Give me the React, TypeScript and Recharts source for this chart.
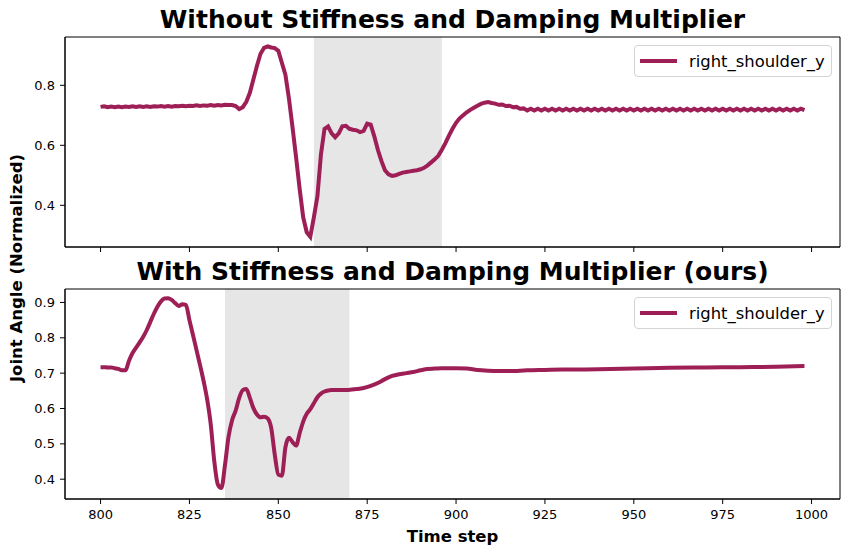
import { LineChart, Line, XAxis, YAxis, ReferenceArea, Legend } from 'recharts'

const LINE_COLOR = '#9d1f56'
const SHADE_COLOR = '#e6e6e6'
const FONT = '"DejaVu Sans", sans-serif'

const xTicks = [800, 825, 850, 875, 900, 925, 950, 975, 1000]
const xDomain = [790, 1008]

const topYTicks = [0.4, 0.6, 0.8]
const topYDomain = [0.261, 0.961]
const topShade = [860, 896]

const bottomYTicks = [0.4, 0.5, 0.6, 0.7, 0.8, 0.9]
const bottomYDomain = [0.344, 0.938]
const bottomShade = [835, 870]

const seriesName = 'right_shoulder_y'
const topTitle = 'Without Stiffness and Damping Multiplier'
const bottomTitle = 'With Stiffness and Damping Multiplier (ours)'

// top run: one value per time step, starting at 800
const topStart = 800
const topValues = [
  0.728, 0.730, 0.727, 0.729, 0.727, 0.729, 0.727, 0.729, 0.728, 0.730, // 800
  0.728, 0.730, 0.728, 0.730, 0.728, 0.730, 0.729, 0.731, 0.729, 0.731, // 810
  0.729, 0.731, 0.730, 0.732, 0.730, 0.732, 0.731, 0.733, 0.731, 0.733, // 820
  0.732, 0.734, 0.732, 0.734, 0.733, 0.735, 0.734, 0.734, 0.731, 0.721, // 830
  0.727, 0.745, 0.775, 0.820, 0.865, 0.905, 0.925, 0.930, 0.926, 0.924, // 840
  0.915, 0.875, 0.835, 0.755, 0.660, 0.560, 0.455, 0.360, 0.310, 0.295, // 850
  0.360, 0.430, 0.570, 0.655, 0.663, 0.640, 0.627, 0.640, 0.663, 0.665, // 860
  0.655, 0.652, 0.650, 0.644, 0.648, 0.672, 0.669, 0.630, 0.585, 0.548, // 870
  0.517, 0.503, 0.498, 0.500, 0.505, 0.509, 0.511, 0.513, 0.515, 0.517, // 880
  0.520, 0.525, 0.533, 0.543, 0.553, 0.565, 0.585, 0.607, 0.632, 0.655, // 890
  0.675, 0.690, 0.700, 0.710, 0.718, 0.725, 0.732, 0.738, 0.742, 0.744, // 900
  0.741, 0.739, 0.735, 0.736, 0.731, 0.732, 0.727, 0.728, 0.722, 0.723, // 910
  0.716, 0.722, 0.716, 0.722, 0.716, 0.722, 0.716, 0.722, 0.716, 0.722, // 920
  0.716, 0.722, 0.716, 0.722, 0.716, 0.722, 0.716, 0.722, 0.716, 0.722, // 930
  0.716, 0.722, 0.716, 0.722, 0.716, 0.722, 0.716, 0.722, 0.716, 0.722, // 940
  0.716, 0.722, 0.716, 0.722, 0.716, 0.722, 0.716, 0.722, 0.716, 0.722, // 950
  0.716, 0.722, 0.716, 0.722, 0.716, 0.722, 0.716, 0.722, 0.716, 0.722, // 960
  0.716, 0.722, 0.716, 0.722, 0.716, 0.722, 0.716, 0.722, 0.716, 0.722, // 970
  0.716, 0.722, 0.716, 0.722, 0.716, 0.722, 0.716, 0.722, 0.716, 0.722, // 980
  0.716, 0.722, 0.716, 0.722, 0.716, 0.722, 0.716, 0.722, 0.717,        // 990
]

const bottomSteps = [
  800, 801, 802, 803, 804, 805, 806, 807, 808, 809,
  810, 811, 812, 813, 814, 815, 816, 817, 818, 819,
  820, 821, 822, 823, 824, 825, 826, 827, 828, 829,
  830, 831, 832, 833, 834, 835, 836, 837, 838, 839,
  840, 841, 842, 843, 844, 845, 846, 847, 848, 849,
  850, 851, 852, 853, 854, 855, 856, 857, 858, 859,
  860, 861, 862, 863, 864, 865, 866, 867, 868, 869,
  870, 872, 874, 876, 878, 880, 882, 884, 886, 888,
  890, 892, 894, 896, 900, 903, 906, 909, 912, 915,
  920, 925, 930, 940, 950, 960, 970, 980, 990, 998,
]
const bottomValues = [
  0.717, 0.717, 0.716, 0.716, 0.714, 0.712, 0.708, 0.708, 0.735, 0.757,
  0.772, 0.787, 0.803, 0.822, 0.845, 0.868, 0.888, 0.903, 0.911, 0.912,
  0.907, 0.898, 0.890, 0.895, 0.893, 0.850, 0.808, 0.765, 0.722, 0.677,
  0.625, 0.555, 0.450, 0.385, 0.375, 0.440, 0.520, 0.567, 0.594, 0.630,
  0.652, 0.655, 0.630, 0.601, 0.583, 0.575, 0.577, 0.572, 0.545, 0.470,
  0.413, 0.410, 0.490, 0.517, 0.505, 0.495, 0.530, 0.563, 0.585, 0.598,
  0.615, 0.632, 0.642, 0.648, 0.651, 0.652, 0.652, 0.652, 0.652, 0.652,
  0.653, 0.655, 0.658, 0.664, 0.672, 0.683, 0.692, 0.697, 0.700, 0.703,
  0.708, 0.712, 0.713, 0.714, 0.714, 0.713, 0.709, 0.707, 0.706, 0.706,
  0.708, 0.709, 0.710, 0.711, 0.713, 0.715, 0.716, 0.717, 0.718, 0.720,
]

const topData = topValues.map((value, i) => ({ step: topStart + i, value }))
const bottomData = bottomSteps.map((step, i) => ({ step, value: bottomValues[i] }))

const tickStyle = { fill: '#000', fontSize: 13, fontFamily: FONT }

function LegendBox() {
  return (
    <div
      style={{
        boxSizing: 'border-box',
        width: 198,
        height: 32,
        border: '1px solid #d4d4d4',
        borderRadius: 4,
        background: 'rgba(255,255,255,0.8)',
        display: 'flex',
        alignItems: 'center',
        fontFamily: FONT,
        fontSize: 16.4,
        color: '#000',
      }}
    >
      <svg width={50} height={10} style={{ marginLeft: 4 }}>
        <line x1={1} y1={5} x2={38} y2={5} stroke={LINE_COLOR} strokeWidth={4} />
      </svg>
      <span>{seriesName}</span>
    </div>
  )
}

function Panel({ data, height, margin, xHeight, showXLabels, yDomain, yTicks, shade, legendTop, lineType }: {
  data: { step: number; value: number }[]
  height: number
  margin: { top: number; right: number; bottom: number; left: number }
  xHeight: number
  showXLabels: boolean
  yDomain: number[]
  yTicks: number[]
  shade: number[]
  legendTop: number
  lineType: 'linear' | 'monotone'
}) {
  return (
    <LineChart width={850} height={height} data={data} margin={margin}>
      <XAxis
        dataKey="step"
        type="number"
        domain={xDomain}
        allowDataOverflow
        ticks={xTicks}
        interval={0}
        height={xHeight}
        tickSize={5}
        tickMargin={6}
        stroke="#000"
        tick={tickStyle}
        tickFormatter={v => (showXLabels ? String(v) : '')}
      />
      <YAxis
        type="number"
        domain={yDomain}
        allowDataOverflow
        ticks={yTicks}
        interval={0}
        width={40}
        tickSize={5}
        tickMargin={5}
        stroke="#000"
        tick={tickStyle}
        tickFormatter={v => v.toFixed(1)}
      />
      <ReferenceArea x1={shade[0]} x2={shade[1]} fill={SHADE_COLOR} fillOpacity={1} stroke="none" />
      <Line
        type={lineType}
        dataKey="value"
        name={seriesName}
        stroke={LINE_COLOR}
        strokeWidth={4}
        dot={false}
        activeDot={false}
        isAnimationActive={false}
      />
      <ReferenceArea
        x1={xDomain[0]}
        x2={xDomain[1]}
        y1={yDomain[0]}
        y2={yDomain[1]}
        fill="none"
        fillOpacity={0}
        stroke="#000"
        strokeWidth={1}
      />
      <Legend
        layout="horizontal"
        verticalAlign="middle"
        align="center"
        content={() => <LegendBox />}
        wrapperStyle={{ left: 634, top: legendTop, width: 198 }}
      />
    </LineChart>
  )
}

export default function App() {
  const titleStyle = {
    position: 'absolute' as const,
    left: 65,
    width: 775,
    textAlign: 'center' as const,
    fontFamily: FONT,
    fontWeight: 'bold' as const,
    fontSize: 25,
    lineHeight: '25px',
    whiteSpace: 'nowrap' as const,
    color: '#000',
  }
  return (
    <div style={{ position: 'absolute', left: 0, top: 0, width: 850, height: 556, background: '#fff', fontFamily: FONT }}>
      <div style={{ ...titleStyle, top: 7 }}>{topTitle}</div>
      <div style={{ ...titleStyle, top: 259 }}>{bottomTitle}</div>

      <div style={{ position: 'absolute', left: 0, top: 0 }}>
        <Panel
          data={topData}
          height={270}
          margin={{ top: 37, right: 10, bottom: 3, left: 25 }}
          xHeight={20}
          showXLabels={false}
          yDomain={topYDomain}
          yTicks={topYTicks}
          shade={topShade}
          legendTop={45}
          lineType="linear"
        />
      </div>
      <div style={{ position: 'absolute', left: 0, top: 260 }}>
        <Panel
          data={bottomData}
          height={296}
          margin={{ top: 29, right: 10, bottom: 27, left: 25 }}
          xHeight={30}
          showXLabels
          yDomain={bottomYDomain}
          yTicks={bottomYTicks}
          shade={bottomShade}
          legendTop={37}
          lineType="monotone"
        />
      </div>

      <div
        style={{
          position: 'absolute',
          left: 65,
          width: 775,
          top: 529,
          textAlign: 'center',
          fontWeight: 'bold',
          fontSize: 16.5,
          lineHeight: '16.5px',
          color: '#000',
        }}
      >
        Time step
      </div>
      <div
        style={{
          position: 'absolute',
          left: 17,
          top: 268,
          transform: 'translate(-50%, -50%) rotate(-90deg)',
          fontWeight: 'bold',
          fontSize: 16.5,
          lineHeight: '16.5px',
          whiteSpace: 'nowrap',
          color: '#000',
        }}
      >
        Joint Angle (Normalized)
      </div>
    </div>
  )
}
